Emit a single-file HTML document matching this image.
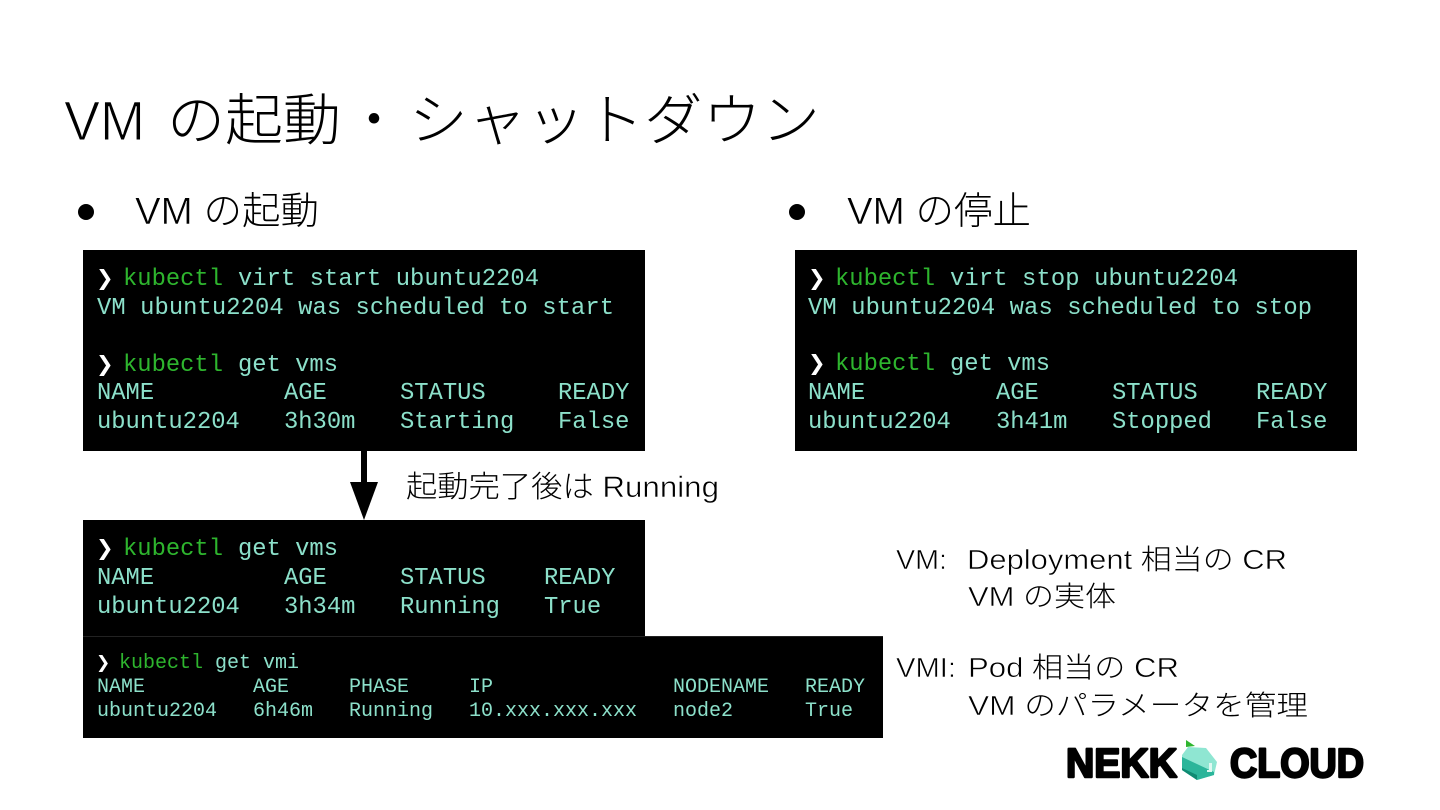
<!DOCTYPE html>
<html lang="ja"><head><meta charset="utf-8"><title>VM の起動・シャットダウン</title>
<style>
html,body{margin:0;padding:0;background:#fff;width:1440px;height:810px;overflow:hidden}
svg{display:block}
.j{font-family:"Liberation Sans","Noto Sans CJK JP",sans-serif;font-weight:300;fill:#000}
.t{stroke:#fff;stroke-width:.55}
.t2{stroke:#fff;stroke-width:1.1}
.m{font-family:"Liberation Mono",monospace;font-size:23.8px;fill:#8ce0ca;white-space:pre}
.s{font-size:20px}
.g{fill:#2eb52e}
.p{fill:#fff;font-family:"DejaVu Sans",sans-serif;font-weight:bold}
.l{font-family:"Liberation Sans",sans-serif;font-weight:bold;font-size:41px;fill:#000;stroke:#000;stroke-width:2.4;stroke-linejoin:round}
</style></head><body>
<svg width="1440" height="810" viewBox="0 0 1440 810" xmlns="http://www.w3.org/2000/svg">
<rect width="1440" height="810" fill="#fff"/>
<text class="j t2" x="64" y="140" font-size="56" textLength="81" lengthAdjust="spacingAndGlyphs">VM</text>
<text class="j" x="167" y="140" font-size="56" textLength="174" lengthAdjust="spacingAndGlyphs">の起動</text>
<text class="j" x="346" y="140" font-size="56">・</text>
<text class="j" x="409" y="140" font-size="56" textLength="411" lengthAdjust="spacingAndGlyphs">シャットダウン</text>
<circle cx="86" cy="212" r="8" fill="#000"/>
<text class="j" x="135" y="224" font-size="38" textLength="184" lengthAdjust="spacingAndGlyphs"><tspan class="t">VM</tspan> の起動</text>
<circle cx="797" cy="212" r="8" fill="#000"/>
<text class="j" x="847" y="224" font-size="38" textLength="184" lengthAdjust="spacingAndGlyphs"><tspan class="t">VM</tspan> の停止</text>

<rect x="83" y="250" width="562" height="201" fill="#000"/>
<rect x="795" y="250" width="562" height="201" fill="#000"/>
<rect x="83" y="520" width="562" height="116" fill="#000"/>
<rect x="83" y="636" width="800" height="102" fill="#000"/>
<rect x="83" y="636" width="800" height="1" fill="#222"/>

<text class="p" x="96" y="285" font-size="21">❯</text>
<text class="m g" x="123" y="285" textLength="100">kubectl</text>
<text class="m" x="238" y="285" textLength="301">virt start ubuntu2204</text>
<text class="m" x="97" y="314" textLength="517">VM ubuntu2204 was scheduled to start</text>
<text class="p" x="96" y="371" font-size="21">❯</text>
<text class="m g" x="123" y="371" textLength="100">kubectl</text>
<text class="m" x="238" y="371" textLength="100">get vms</text>
<text class="m" x="97" y="399">NAME</text><text class="m" x="284" y="399">AGE</text><text class="m" x="400" y="399">STATUS</text><text class="m" x="558" y="399">READY</text>
<text class="m" x="97" y="428">ubuntu2204</text><text class="m" x="284" y="428">3h30m</text><text class="m" x="400" y="428">Starting</text><text class="m" x="558" y="428">False</text>

<text class="p" x="808" y="285" font-size="21">❯</text>
<text class="m g" x="835" y="285" textLength="100">kubectl</text>
<text class="m" x="950" y="285" textLength="288">virt stop ubuntu2204</text>
<text class="m" x="808" y="314" textLength="504">VM ubuntu2204 was scheduled to stop</text>
<text class="p" x="808" y="370" font-size="21">❯</text>
<text class="m g" x="835" y="370" textLength="100">kubectl</text>
<text class="m" x="950" y="370" textLength="100">get vms</text>
<text class="m" x="808" y="399">NAME</text><text class="m" x="996" y="399">AGE</text><text class="m" x="1112" y="399">STATUS</text><text class="m" x="1256" y="399">READY</text>
<text class="m" x="808" y="428">ubuntu2204</text><text class="m" x="996" y="428">3h41m</text><text class="m" x="1112" y="428">Stopped</text><text class="m" x="1256" y="428">False</text>

<text class="p" x="96" y="555" font-size="21">❯</text>
<text class="m g" x="123" y="555" textLength="100">kubectl</text>
<text class="m" x="238" y="555" textLength="100">get vms</text>
<text class="m" x="97" y="584">NAME</text><text class="m" x="284" y="584">AGE</text><text class="m" x="400" y="584">STATUS</text><text class="m" x="544" y="584">READY</text>
<text class="m" x="97" y="613">ubuntu2204</text><text class="m" x="284" y="613">3h34m</text><text class="m" x="400" y="613">Running</text><text class="m" x="544" y="613">True</text>

<text class="p" x="96" y="668" font-size="17">❯</text>
<text class="m s g" x="119" y="668" textLength="84">kubectl</text>
<text class="m s" x="215" y="668" textLength="84">get vmi</text>
<text class="m s" x="97" y="692">NAME</text><text class="m s" x="253" y="692">AGE</text><text class="m s" x="349" y="692">PHASE</text><text class="m s" x="469" y="692">IP</text><text class="m s" x="673" y="692">NODENAME</text><text class="m s" x="805" y="692">READY</text>
<text class="m s" x="97" y="716">ubuntu2204</text><text class="m s" x="253" y="716">6h46m</text><text class="m s" x="349" y="716">Running</text><text class="m s" x="469" y="716">10.xxx.xxx.xxx</text><text class="m s" x="673" y="716">node2</text><text class="m s" x="805" y="716">True</text>

<rect x="361" y="451" width="6" height="32" fill="#000"/>
<polygon points="350,482 378,482 364,520" fill="#000"/>
<text class="j" x="406" y="497" font-size="30" textLength="313" lengthAdjust="spacingAndGlyphs">起動完了後は <tspan class="t">Running</tspan></text>

<text class="j t" x="896" y="569" font-size="28" textLength="51" lengthAdjust="spacingAndGlyphs">VM:</text>
<text class="j" x="967" y="569" font-size="28" textLength="320" lengthAdjust="spacingAndGlyphs"><tspan class="t">Deployment</tspan> 相当の <tspan class="t">CR</tspan></text>
<text class="j" x="968" y="606" font-size="28" textLength="148" lengthAdjust="spacingAndGlyphs"><tspan class="t">VM</tspan> の実体</text>
<text class="j t" x="896" y="677" font-size="28" textLength="60" lengthAdjust="spacingAndGlyphs">VMI:</text>
<text class="j" x="968" y="677" font-size="28" textLength="211" lengthAdjust="spacingAndGlyphs"><tspan class="t">Pod</tspan> 相当の <tspan class="t">CR</tspan></text>
<text class="j" x="968" y="715" font-size="28" textLength="340" lengthAdjust="spacingAndGlyphs"><tspan class="t">VM</tspan> のパラメータを管理</text>

<text class="l" x="1066" y="777" textLength="111" lengthAdjust="spacingAndGlyphs">NEKK</text>
<text class="l" x="1230" y="777" textLength="134" lengthAdjust="spacingAndGlyphs">CLOUD</text>
<polygon points="1186,740 1195,746 1186,747" fill="#2fb52f"/>
<polygon points="1188,747 1206,748 1217,762 1214,775 1197,780 1182,770 1182,755" fill="#8fe6d2"/>
<polygon points="1182,757 1214,772 1214,775 1197,780 1182,770" fill="#2bb59a"/>
<polygon points="1182,768 1197,775 1197,780 1182,770" fill="#0f8a72"/>
<polygon points="1209,763 1212,763 1212,772 1207,772 1207,770 1209,770" fill="#dff8f1"/>
</svg>
</body></html>
